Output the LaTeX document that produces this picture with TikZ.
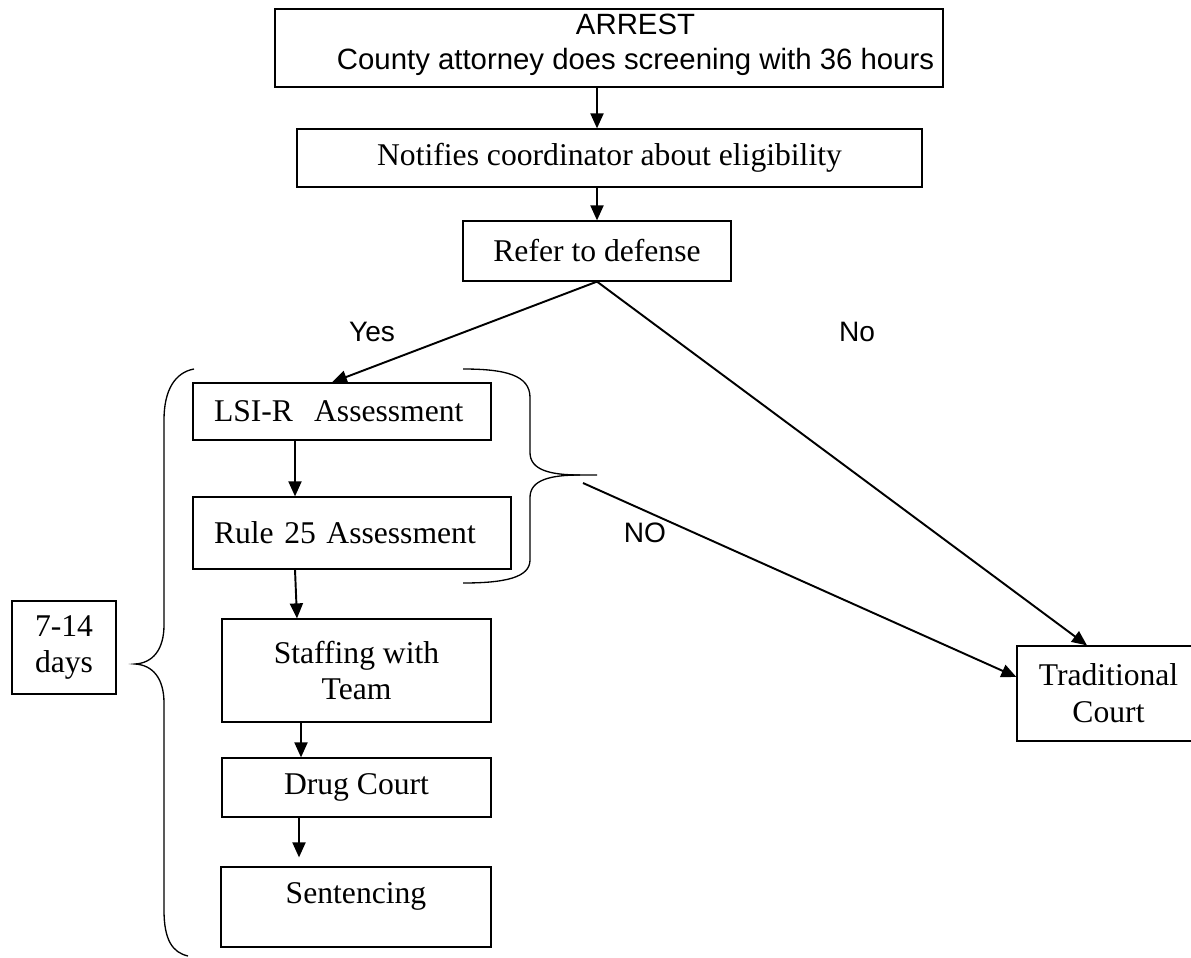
\documentclass[tikz,border=0pt]{standalone}
\usepackage{fontspec}
\setmainfont{Liberation Serif}
\setsansfont{Liberation Sans}
\usepackage{tikz}
\usetikzlibrary{arrows.meta}

\begin{document}
\begin{tikzpicture}[
  box/.style={draw, line width=0.7pt, inner sep=0pt, align=center,
    font=\fontsize{18}{21}\selectfont},
  flow/.style={-{Triangle[length=0.3cm,width=0.26cm]}, line width=1.1pt},
  branch/.style={font=\sffamily\fontsize{16}{19}\selectfont},
  brace/.style={line width=0.75pt}]
  \useasboundingbox (0,0) rectangle (23.82,-19.14);
  % main column
  \node[box, minimum width=13.36cm, minimum height=1.56cm] (arrest) at (12.18,-0.96) {};
  \node[font=\sffamily\fontsize{16.7}{20}\selectfont, align=center] (arresttext)
    at ([xshift=0.53cm,yshift=0.07cm]arrest.center) {ARREST\\County attorney does screening with 36 hours};
  \node[box, minimum width=12.5cm, minimum height=1.16cm] (notify) at (12.19,-3.16) {Notifies coordinator about eligibility};
  \node[box, minimum width=5.36cm, minimum height=1.2cm] (refer) at (11.94,-5.02) {Refer to defense};
  % drug court track
  \node[box, text width=5.12cm, inner xsep=0.42cm, align=left, minimum height=1.14cm] (lsi) at (6.84,-8.23) {LSI-R\ \ Assessment};
  \node[box, text width=5.52cm, inner xsep=0.42cm, align=left, minimum height=1.44cm] (rule) at (7.04,-10.66) {Rule 25 Assessment};
  \node[box, minimum width=5.38cm, minimum height=2.06cm] (staff) at (7.13,-13.41) {Staffing with\\Team};
  \node[box, minimum width=5.38cm, minimum height=1.18cm] (drug) at (7.13,-15.75) {Drug Court};
  \node[box, minimum width=5.4cm, minimum height=1.6cm, text depth=0.54cm] (sentence) at (7.12,-18.14) {Sentencing};
  \node[box, minimum width=2.08cm, minimum height=1.86cm] (days) at (1.28,-12.95) {7-14\\days};
  \node[box, minimum width=3.66cm, minimum height=1.9cm] (trad) at (22.17,-13.87) {Traditional\\Court};
  % branch labels
  \node[branch] (yes) at (7.44,-6.64) {Yes};
  \node[branch] (no) at (17.14,-6.64) {No};
  \node[branch] (nobrace) at (12.9,-10.66) {NO};
  % braces
  \draw[brace] (3.88,-7.38) .. controls (3.5,-7.45) and (3.28,-7.8) .. (3.28,-8.4)
    -- (3.28,-12.5) .. controls (3.28,-13.0) and (3.05,-13.26) .. (2.7,-13.28)
    .. controls (3.05,-13.3) and (3.28,-13.56) .. (3.28,-14.06)
    -- (3.28,-18.2) .. controls (3.28,-18.8) and (3.45,-19.05) .. (3.76,-19.12);
  \draw[brace] (9.26,-7.38) .. controls (10.1,-7.38) and (10.6,-7.5) .. (10.6,-7.95)
    -- (10.6,-9.05) .. controls (10.6,-9.4) and (11.0,-9.5) .. (11.6,-9.5) -- (11.94,-9.5);
  \draw[brace] (11.6,-9.5) .. controls (11.0,-9.5) and (10.6,-9.6) .. (10.6,-9.95)
    -- (10.6,-11.2) .. controls (10.6,-11.55) and (10.1,-11.66) .. (9.26,-11.66);
  \coordinate (bracetip) at (11.66,-9.66);
  % connectors
  \draw[flow] (arrest.south -| refer) -- (notify.north -| refer);
  \draw[flow] (notify.south -| refer) -- (refer.north);
  \draw[flow] (refer.south) -- ([xshift=-0.2cm]lsi.north);
  \draw[flow] (refer.south) -- ([xshift=-0.43cm]trad.north);
  \draw[flow] ([xshift=-0.94cm]lsi.south) -- ([xshift=-0.94cm]lsi.south |- rule.north);
  \draw[flow] ([xshift=-1.14cm]rule.south) -- ([xshift=-1.19cm]staff.north);
  \draw[flow] ([xshift=-1.11cm]staff.south) -- ([xshift=-1.11cm]drug.north);
  \draw[flow, shorten >=0.18cm] ([xshift=-1.15cm]drug.south) -- ([xshift=-1.15cm]drug.south |- sentence.north);
  \draw[flow] (bracetip) -- ([yshift=0.33cm]trad.west);
\end{tikzpicture}
\end{document}
